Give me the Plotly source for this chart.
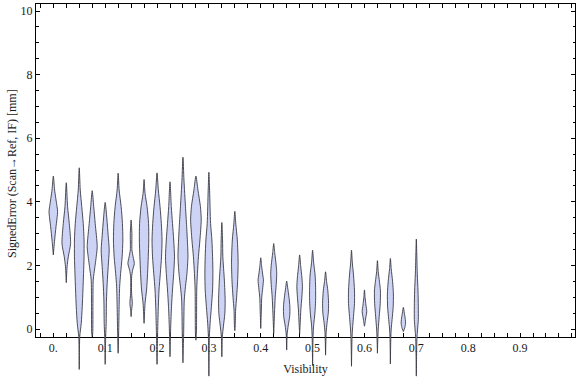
import plotly.graph_objects as go

# Visibility bins (violin centres)
visibility = [0.0, 0.025, 0.05, 0.075, 0.1, 0.125, 0.15, 0.175, 0.2, 0.225,
              0.25, 0.275, 0.3, 0.325, 0.35, 0.4, 0.425, 0.45, 0.475, 0.5,
              0.525, 0.575, 0.6, 0.625, 0.65, 0.675, 0.7]

# Signed error levels (mm) along each violin, top to bottom
levels = [
    [4.81, 4.37, 3.85, 3.69, 3.22, 2.80, 2.33],
    [4.60, 3.85, 3.32, 2.69, 2.27, 1.96, 1.46],
    [5.07, 4.37, 3.85, 3.32, 2.80, 2.27, 1.75, 1.23, 0.70, 0.18, -0.24, -1.27],
    [4.35, 3.85, 3.32, 2.59, 2.27, 1.75, 1.54, 0.80, -0.14, -0.24],
    [3.98, 3.46, 2.94, 2.49, 1.96, 1.44, 0.91, 0.18, -0.24, -1.11],
    [4.90, 4.37, 3.85, 3.32, 2.80, 2.27, 1.75, 1.33, 0.70, -0.14, -0.76],
    [3.43, 3.00, 2.49, 2.27, 2.06, 1.85, 1.64, 1.12, 0.81, 0.60, 0.39],
    [4.70, 4.26, 3.85, 3.32, 2.80, 2.27, 1.75, 1.23, 0.81, 0.18],
    [4.91, 4.37, 3.85, 3.32, 2.80, 2.27, 1.75, 1.23, 0.70, 0.00, -1.11],
    [4.63, 3.85, 3.32, 2.80, 2.27, 1.75, 1.23, 0.70, 0.07, -0.87],
    [5.40, 4.68, 3.85, 3.22, 2.59, 2.27, 1.75, 1.33, 0.91, -0.14, -1.06],
    [4.81, 4.37, 3.85, 3.43, 2.80, 2.27, 1.75, 1.23, -0.14, -0.35],
    [4.93, 4.37, 3.32, 2.80, 2.27, 1.75, 1.23, 0.70, 0.18, -0.24, -1.48],
    [3.35, 2.80, 2.27, 1.54, 0.91, 0.49, 0.07, -0.24, -0.87],
    [3.70, 3.30, 2.80, 2.10, 1.50, 1.00, 0.60, 0.10, -0.05],
    [2.24, 2.00, 1.70, 1.55, 1.30, 1.00, 0.60, 0.02],
    [2.69, 2.40, 2.00, 1.75, 1.40, 1.00, 0.50, -0.14],
    [1.51, 1.30, 1.00, 0.70, 0.40, 0.10, -0.15, -0.66],
    [2.33, 2.00, 1.60, 1.33, 1.00, 0.60, 0.20, -0.14],
    [2.48, 2.10, 1.70, 1.30, 0.90, 0.50, 0.10, -0.20, -1.15],
    [1.80, 1.50, 1.20, 0.80, 0.50, 0.20, -0.10, -0.82],
    [2.48, 2.10, 1.70, 1.20, 0.80, 0.40, 0.00, -0.30, -1.17],
    [1.23, 1.00, 0.75, 0.55, 0.35, 0.20, 0.09],
    [2.15, 1.80, 1.50, 1.20, 0.80, 0.40, 0.00, -0.30, -0.76],
    [2.22, 1.90, 1.50, 1.10, 0.70, 0.30, 0.00, -0.30, -1.10],
    [0.68, 0.50, 0.30, 0.18, 0.05, -0.03, -0.08],
    [2.83, 2.30, 1.70, 1.20, 0.70, 0.30, 0.00, -0.30, -1.48],
]

# Relative density (half-width) at each level
density = [
    [0, 1.3, 3.7, 4.3, 2.7, 1.3, 0],
    [0, 1.3, 3.0, 4.3, 2.0, 0.8, 0],
    [0, 1.0, 2.5, 4.0, 4.8, 4.8, 4.3, 3.7, 3.0, 2.0, 0.5, 0],
    [0, 1.5, 3.0, 5.0, 4.0, 1.8, 1.0, 0.7, 0.5, 0],
    [0, 1.7, 3.0, 4.0, 3.0, 2.0, 1.3, 1.0, 0.5, 0],
    [0, 1.0, 3.0, 4.3, 4.7, 4.0, 2.5, 1.5, 1.0, 0.5, 0],
    [0, 0.8, 0.8, 2.0, 3.2, 1.5, 0.5, 0.5, 1.2, 0.5, 0],
    [0, 1.0, 3.0, 4.5, 4.7, 4.2, 3.5, 2.5, 1.0, 0],
    [0, 1.3, 3.0, 4.3, 5.0, 4.5, 3.3, 2.0, 1.3, 0.7, 0],
    [0, 1.3, 2.5, 3.7, 4.5, 3.7, 2.5, 1.5, 0.7, 0],
    [0, 1.0, 2.5, 3.7, 4.7, 5.0, 4.0, 2.5, 1.3, 0.7, 0],
    [0, 2.0, 4.5, 5.3, 4.0, 2.5, 1.5, 0.8, 0.5, 0],
    [0, 0.7, 1.7, 3.0, 3.7, 4.0, 3.7, 2.5, 1.2, 0.5, 0],
    [0, 0.7, 1.0, 2.5, 3.3, 3.0, 1.5, 0.5, 0],
    [0, 1.0, 2.5, 3.3, 2.8, 1.8, 0.8, 0.4, 0],
    [0, 0.8, 2.0, 2.7, 2.0, 1.0, 0.6, 0],
    [0, 1.0, 2.5, 3.0, 2.5, 1.5, 0.8, 0],
    [0, 1.0, 2.3, 3.2, 3.0, 1.5, 0.5, 0],
    [0, 1.0, 2.3, 2.8, 2.2, 1.2, 0.6, 0],
    [0, 1.0, 2.5, 3.0, 3.0, 2.3, 1.0, 0.5, 0],
    [0, 1.0, 2.3, 3.0, 2.7, 1.5, 0.6, 0],
    [0, 0.8, 2.0, 3.0, 3.0, 2.0, 1.0, 0.5, 0],
    [0, 0.6, 1.5, 2.3, 1.3, 0.6, 0],
    [0, 0.8, 2.0, 3.0, 2.8, 1.8, 0.8, 0.4, 0],
    [0, 0.8, 2.2, 3.0, 2.8, 1.7, 0.8, 0.4, 0],
    [0, 1.0, 2.0, 2.2, 1.5, 0.6, 0],
    [0, 0.5, 1.0, 1.7, 2.0, 2.0, 1.3, 0.6, 0],
]

x_tick_vals = [0.0, 0.1, 0.2, 0.3, 0.4, 0.5, 0.6, 0.7, 0.8, 0.9]
x_tick_text = ["0.", "0.1", "0.2", "0.3", "0.4", "0.5", "0.6", "0.7", "0.8", "0.9"]
y_tick_vals = [0, 2, 4, 6, 8, 10]
x_title = "Visibility"
y_title = "SignedError (Scan→Ref, IF) [mm]"

WIDTH_SCALE = 1 / 518.6  # density unit -> visibility units

FILL = "rgb(204,211,245)"
EDGE = "rgba(50,50,60,0.85)"
FONT = "Liberation Serif"
TXT = "#1a1a1a"

W, H = 576, 377
M_L, M_R, M_T = 36, 1, 4
FRAME_BOTTOM_PX = 337
X_RANGE = [-0.0334, 1.006]
Y_RANGE = [-0.25, 10.22]

plot_w = W - M_L - M_R
plot_h = H - M_T
frame_frac = (H - FRAME_BOTTOM_PX) / plot_h
px_per_unit = (FRAME_BOTTOM_PX - M_T) / (Y_RANGE[1] - Y_RANGE[0])
y2_low = Y_RANGE[0] - (H - FRAME_BOTTOM_PX) / px_per_unit

fig = go.Figure()
# invisible anchor trace so the framed subplot (x/y) is drawn
fig.add_trace(go.Scatter(x=[X_RANGE[0]], y=[Y_RANGE[0]], mode="markers",
                         marker=dict(opacity=0, size=1), hoverinfo="skip",
                         showlegend=False, xaxis="x", yaxis="y"))
for xc, ys, ds in zip(visibility, levels, density):
    xs = [xc + d * WIDTH_SCALE for d in ds] + [xc - d * WIDTH_SCALE for d in reversed(ds)]
    yy = list(ys) + list(reversed(ys))
    fig.add_trace(go.Scatter(
        x=xs, y=yy, mode="lines", fill="toself", fillcolor=FILL,
        line=dict(color=EDGE, width=1, shape="spline", smoothing=0.7),
        hoverinfo="skip", showlegend=False, xaxis="x2", yaxis="y2",
    ))

fig.update_layout(
    width=W, height=H,
    margin=dict(l=M_L, r=M_R, t=M_T, b=0, autoexpand=False),
    paper_bgcolor="white", plot_bgcolor="rgba(0,0,0,0)",
    font=dict(family=FONT, size=12, color=TXT),
    showlegend=False,
    xaxis=dict(
        domain=[0, 1], anchor="y",
        range=X_RANGE, showgrid=False, zeroline=False,
        showline=True, linecolor="black", linewidth=1, mirror="ticks",
        ticks="inside", ticklen=4, tickcolor="black", tickwidth=1,
        tickvals=x_tick_vals, ticktext=x_tick_text,
        tickfont=dict(family=FONT, size=12, color=TXT),
        minor=dict(dtick=0.025, tick0=0, ticks="inside", ticklen=4,
                   tickcolor="black", showgrid=False),
        title=dict(text=x_title, font=dict(family=FONT, size=12, color=TXT), standoff=10),
    ),
    yaxis=dict(
        domain=[frame_frac, 1], anchor="x",
        range=Y_RANGE, showgrid=False, zeroline=False,
        showline=True, linecolor="black", linewidth=1, mirror="ticks",
        ticks="inside", ticklen=4, tickcolor="black", tickwidth=1,
        tickvals=y_tick_vals,
        tickfont=dict(family=FONT, size=12, color=TXT),
        minor=dict(dtick=0.5, tick0=0, ticks="inside", ticklen=2.5,
                   tickcolor="black", showgrid=False),
    ),
    xaxis2=dict(domain=[0, 1], anchor="y2", range=X_RANGE, visible=False),
    yaxis2=dict(domain=[0, 1], anchor="x2", range=[y2_low, Y_RANGE[1]], visible=False),
    annotations=[dict(
        text=y_title, textangle=-90, showarrow=False,
        xref="paper", yref="paper",
        x=(12 - M_L) / plot_w, y=(H - 174) / plot_h,
        xanchor="center", yanchor="middle",
        font=dict(family=FONT, size=12, color=TXT),
    )],
)

fig.write_html("out.html",
               config={"displayModeBar": False},
               post_script="document.body.style.margin='0';document.body.style.padding='0';")
